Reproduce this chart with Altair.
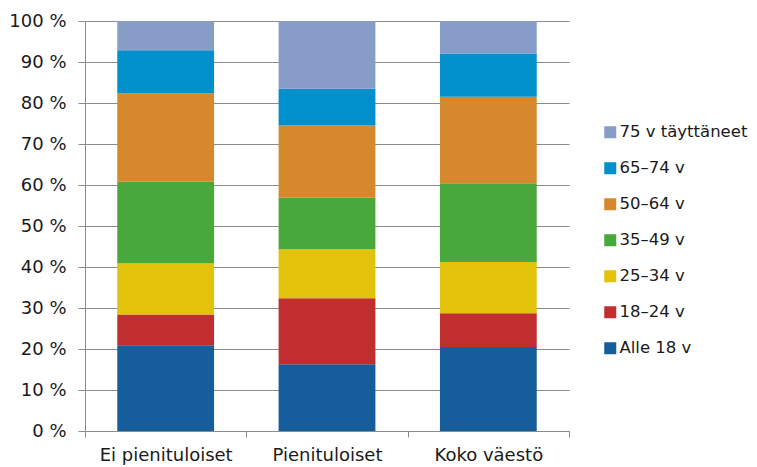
import altair as alt
import pandas as pd

categories = ["Ei pienituloiset", "Pienituloiset", "Koko väestö"]
age_groups = ["Alle 18 v", "18–24 v", "25–34 v", "35–49 v", "50–64 v", "65–74 v", "75 v täyttäneet"]
colors = ["#165D9C", "#C12E2F", "#E2C20B", "#49A83B", "#D5892C", "#0190CB", "#879DC7"]

ei_pienituloiset = [20.9, 7.5, 12.5, 19.9, 21.6, 10.45, 7.15]
pienituloiset = [16.3, 16.1, 11.9, 12.6, 17.6, 9.0, 16.5]
koko_vaesto = [20.5, 8.2, 12.5, 19.2, 21.1, 10.6, 7.9]

y_ticks = list(range(0, 101, 10))

series = [ei_pienituloiset, pienituloiset, koko_vaesto]
rows = []
for cat, vals in zip(categories, series):
    for i, (g, v) in enumerate(zip(age_groups, vals)):
        rows.append({"ryhmä": cat, "ikä": g, "osuus": v, "järjestys": i})
df = pd.DataFrame(rows)

FONT = "DejaVu Sans"
TEXT = "#1a1a1a"
GRID = "#8c8c8c"

chart = alt.Chart(df).mark_bar(width=alt.RelativeBandSize(0.6)).encode(
    x=alt.X("ryhmä:N", sort=categories, title=None,
            scale=alt.Scale(paddingInner=0, paddingOuter=0),
            axis=alt.Axis(labelAngle=0, tickBand="extent", tickSize=6, tickColor=GRID,
                          domainColor=GRID, labelPadding=9, labelFontSize=18,
                          labelFont=FONT, labelColor=TEXT, grid=False)),
    y=alt.Y("osuus:Q", stack="zero", title=None,
            scale=alt.Scale(domain=[0, 100], nice=False),
            axis=alt.Axis(values=y_ticks, labelExpr="datum.value + ' %'", tickSize=7,
                          tickColor=GRID, domainColor=GRID, gridColor=GRID, grid=True,
                          labelPadding=12, labelFontSize=18, labelFont=FONT,
                          labelColor=TEXT)),
    color=alt.Color("ikä:N",
                    scale=alt.Scale(domain=age_groups[::-1], range=colors[::-1]),
                    legend=alt.Legend(title=None, orient="none", legendX=517, legendY=103,
                                      symbolType="square", symbolSize=144,
                                      symbolStrokeWidth=0, labelFontSize=16.5,
                                      labelFont=FONT, labelColor=TEXT, labelOffset=1,
                                      rowPadding=19, padding=0, labelLimit=200)),
    order=alt.Order("järjestys:Q", sort="ascending"),
).properties(
    width=484, height=410,
    autosize=alt.AutoSizeParams(type="none"),
    padding={"left": 77, "top": 13, "right": 180, "bottom": 36},
).configure_view(stroke=None).configure_axis(gridWidth=1, domainWidth=1, tickWidth=1)

chart.save("out.html", embed_options={"renderer": "svg", "actions": False})
